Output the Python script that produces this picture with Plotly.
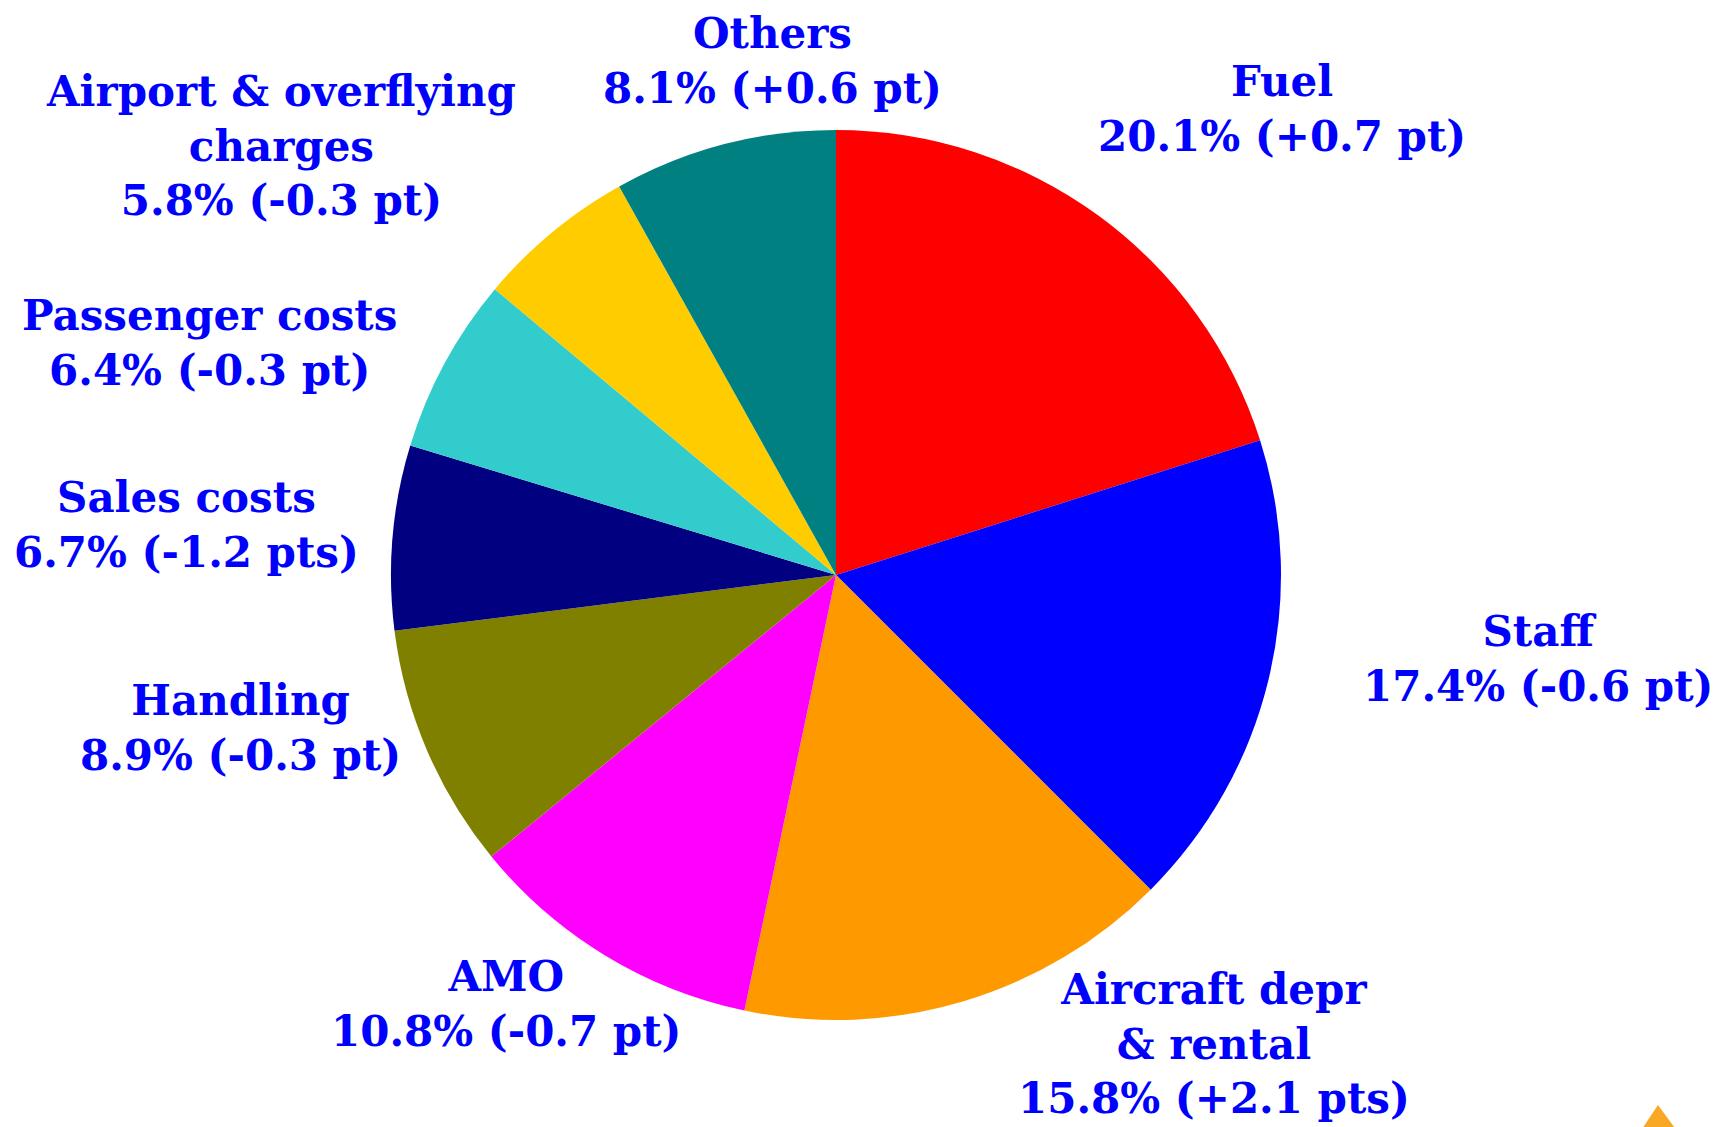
import plotly.graph_objects as go

W, H = 1723, 1127

categories = ["Fuel", "Staff", "Aircraft depr<br>& rental", "AMO", "Handling",
              "Sales costs", "Passenger costs", "Airport & overflying<br>charges", "Others"]
shares = [20.1, 17.4, 15.8, 10.8, 8.9, 6.7, 6.4, 5.8, 8.1]
changes = ["+0.7 pt", "-0.6 pt", "+2.1 pts", "-0.7 pt", "-0.3 pt",
           "-1.2 pts", "-0.3 pt", "-0.3 pt", "+0.6 pt"]
colors = ["#FF0000", "#0000FF", "#FF9900", "#FF00FF", "#808000",
          "#000080", "#33CCCC", "#FFCC00", "#008080"]

# label block centres (pixels, top-left origin)
label_px = [(1274, 101), (1530, 651), (1206, 1036), (498, 996), (232, 720),
            (178, 517), (201, 335), (273, 138), (764, 53)]

FONT = "DejaVu Serif"
cx, cy, r = 828, 567, 445

fig = go.Figure(go.Pie(
    labels=[c.replace("<br>", " ") for c in categories],
    values=shares,
    marker=dict(colors=colors, line=dict(width=0)),
    sort=False,
    direction="clockwise",
    rotation=0,
    textinfo="none",
    hoverinfo="label+percent",
    showlegend=False,
    domain=dict(x=[(cx - r) / W, (cx + r) / W], y=[(H - cy - r) / H, (H - cy + r) / H]),
))

annotations = []
for cat, s, ch, (px, py) in zip(categories, shares, changes, label_px):
    annotations.append(dict(
        x=px / W, y=1 - py / H, xref="paper", yref="paper",
        xanchor="center", yanchor="middle", showarrow=False, align="center",
        text=f"<b>{cat}<br>{s:.1f}% ({ch})</b>",
        font=dict(family=FONT, size=42, color="#0000FF"),
    ))

# small orange logo in the bottom-right corner
shapes = [dict(type="path", xref="paper", yref="paper",
               path=f"M {1630/W} {1-1127/H} L {1650/W} {1-1097/H} L {1672/W} {1-1127/H} Z",
               fillcolor="#F9A825", line=dict(width=0))]

fig.update_layout(
    width=W, height=H,
    margin=dict(l=0, r=0, t=0, b=0),
    paper_bgcolor="white", plot_bgcolor="white",
    annotations=annotations, shapes=shapes,
)

fig.write_html("out.html")
